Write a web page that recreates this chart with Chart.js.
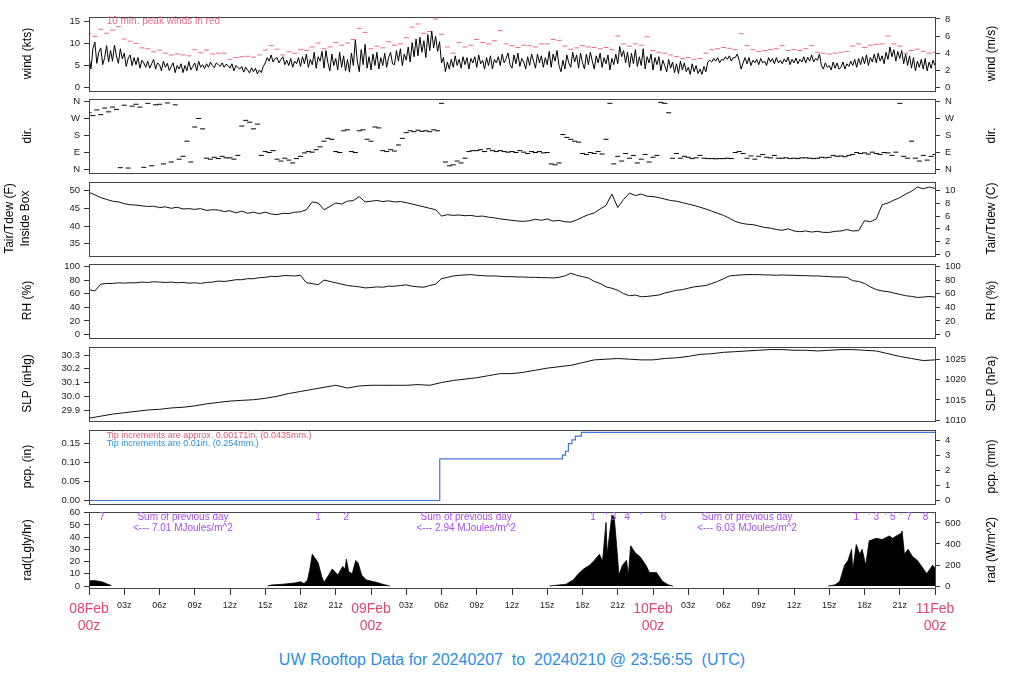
<!DOCTYPE html>
<html>
<head>
<meta charset="utf-8">
<title>UW Rooftop Data</title>
<script src="https://cdn.jsdelivr.net/npm/chart.js@4.4.1/dist/chart.umd.min.js"></script>
<style>
    body { margin: 0; background: #fff; }
    #wrap { position: relative; width: 1024px; height: 700px; overflow: hidden; font-family: "Liberation Sans", Arial, sans-serif; }
    #wrap canvas { position: absolute; left: 0; }
    #title { position: absolute; left: 0; top: 651px; width: 1024px; text-align: center; font-size: 16px; color: #2d8ee6; white-space: pre; }
</style>
</head>
<body>
<div id="wrap">
    <div id="title">UW Rooftop Data for 20240207  to  20240210 @ 23:56:55  (UTC)</div>
</div>
<script>
/**
 * Rooftop weather station, 3-day stacked panels (08Feb 00z .. 11Feb 00z).
 * All series are indexed in hours since 08Feb 00z.
 */

// ---- time axis ----
const xTickHours = [0, 3, 6, 9, 12, 15, 18, 21, 24, 27, 30, 33, 36, 39, 42, 45, 48, 51, 54, 57, 60, 63, 66, 69, 72];
const xTickLabels = [
    ['08Feb', '00z'], '03z', '06z', '09z', '12z', '15z', '18z', '21z',
    ['09Feb', '00z'], '03z', '06z', '09z', '12z', '15z', '18z', '21z',
    ['10Feb', '00z'], '03z', '06z', '09z', '12z', '15z', '18z', '21z',
    ['11Feb', '00z']
];

// ---- wind speed (kts), 10-min samples, one row per hour ----
const windStepH = 1 / 6;
const windKts = [
    7.0, 4.2, 8.8, 10.3, 5.5, 8.0,   9.0, 5.2, 6.8, 9.5, 5.8, 8.4,
    6.0, 9.6, 7.2, 5.5, 8.8, 6.5,    7.8, 4.8, 6.6, 7.4, 5.0, 6.8,
    5.2, 6.8, 4.4, 6.2, 5.6, 4.6,    6.0, 4.4, 5.4, 6.4, 4.2, 5.6,
    5.2, 3.8, 6.0, 4.6, 5.5, 3.9,    4.8, 5.6, 3.4, 5.0, 4.2, 5.4,
    3.4, 5.0, 3.8, 5.9, 4.0, 4.8,    5.6, 3.8, 6.0, 4.6, 5.2, 4.3,
    5.4, 4.6, 5.8, 5.0, 4.5, 5.6,    5.2, 4.8, 5.6, 4.6, 5.3, 5.0,
    4.4, 5.4, 3.8, 5.0, 4.6, 4.2,    4.8, 3.5, 4.6, 4.0, 3.3, 4.5,
    3.6, 4.4, 3.1, 4.0, 3.4, 4.8,    5.6, 6.8, 6.0, 7.4, 5.8, 6.6,
    6.8, 5.6, 6.4, 7.0, 5.2, 6.2,    5.0, 6.6, 4.6, 6.0, 5.4, 6.8,
    4.8, 7.0, 5.4, 7.6, 4.6, 6.4,    5.2, 8.0, 4.4, 7.0, 6.0, 8.2,
    4.4, 8.4, 5.6, 3.8, 7.6, 5.0,    6.6, 4.0, 8.0, 4.6, 7.2, 3.8,
    6.4, 3.5, 7.8, 5.0, 10.8, 6.0,   3.6, 8.6, 5.2, 9.8, 4.4, 7.0,
    4.0, 7.6, 5.0, 8.0, 4.2, 6.8,    5.0, 7.8, 4.6, 6.8, 8.0, 5.4,
    5.2, 8.4, 6.0, 8.8, 5.0, 7.6,    6.2, 9.2, 5.8, 10.2, 7.0, 11.0,
    7.2, 11.4, 8.0, 10.6, 6.8, 12.0, 8.4, 12.8, 9.0, 11.6, 8.2, 10.4,
    5.6, 6.8, 3.6, 5.8, 4.2, 6.4,    4.6, 7.2, 5.0, 6.4, 4.4, 7.0,
    5.2, 6.8, 4.2, 6.6, 5.6, 7.0,    4.6, 7.4, 5.4, 6.2, 4.2, 6.8,
    5.0, 7.2, 4.2, 6.4, 5.6, 7.0,    5.0, 7.6, 5.6, 6.6, 7.8, 5.2,
    4.4, 7.4, 5.4, 7.8, 4.8, 6.6,    5.8, 4.2, 7.0, 5.0, 7.6, 6.0,
    4.4, 7.6, 5.6, 7.2, 4.6, 6.8,    5.2, 8.2, 4.6, 7.6, 6.0, 8.4,
    5.0, 3.6, 6.2, 4.2, 7.4, 5.6,    4.6, 8.0, 5.8, 7.4, 4.4, 7.8,
    5.6, 4.2, 7.6, 5.2, 8.0, 6.0,    4.2, 7.2, 5.6, 7.8, 4.6, 6.8,
    5.4, 7.4, 4.0, 6.6, 5.2, 7.6,    5.4, 9.3, 7.0, 8.4, 5.6, 8.0,
    4.6, 7.8, 5.4, 8.6, 4.8, 7.0,    5.0, 8.8, 4.2, 7.0, 5.6, 7.6,
    4.0, 6.8, 5.2, 7.0, 3.8, 6.2,    5.0, 3.6, 6.4, 4.4, 5.8, 3.4,
    5.4, 3.2, 6.0, 4.0, 5.6, 3.6,    4.6, 3.0, 5.4, 3.6, 5.0, 3.2,
    4.2, 3.0, 4.8, 3.6, 5.8, 6.2,    5.8, 6.6, 6.0, 6.8, 5.6, 6.4,
    6.2, 7.0, 6.4, 7.2, 6.0, 6.8,    6.8, 7.6, 6.2, 4.2, 5.6, 6.8,
    5.4, 6.8, 5.0, 6.2, 5.6, 6.4,    5.2, 6.6, 5.6, 6.0, 5.0, 6.8,
    5.8, 6.6, 5.4, 6.8, 5.6, 6.2,    5.4, 6.5, 5.8, 6.9, 5.2, 6.4,
    5.6, 6.7, 5.4, 6.4, 5.8, 7.0,    5.6, 6.9, 6.0, 7.4, 5.8, 6.6,
    6.2, 7.6, 5.0, 4.2, 5.6, 4.6,    5.0, 4.0, 5.8, 4.4, 5.6, 4.2,
    4.6, 5.8, 4.2, 5.4, 4.8, 6.0,    5.0, 6.4, 4.6, 6.6, 5.2, 7.0,
    5.4, 7.4, 5.0, 6.8, 5.8, 7.6,    5.6, 7.8, 6.0, 7.2, 5.4, 8.0,
    6.4, 9.2, 7.0, 8.6, 6.0, 8.2,    6.6, 8.4, 5.4, 7.6, 5.0, 7.2,
    4.4, 6.8, 3.8, 6.0, 4.6, 6.4,    4.2, 6.6, 3.8, 5.8, 4.4, 6.2,
    5.0
];

// ---- 10 min peak wind (kts), 30-min samples ----
const peakStepH = 0.5;
const peakKts = [
    12.2, 11.6, 13.2, 12.3, 13.0, 13.8, 11.0, 10.5, 10.0, 9.0,
    8.8, 8.1, 8.5, 7.8, 7.4, 7.6, 7.4, 7.2, 8.6, 7.9,
    8.5, 7.6, 7.8, 7.8, 6.4, 6.8, 7.0, 7.1, 6.9, 7.4,
    8.5, 9.5, 8.7, 7.4, 8.1, 7.8, 8.6, 8.4, 9.2, 10.1,
    8.8, 9.2, 10.2, 9.6, 10.1, 10.9, 13.4, 12.5, 8.8, 9.4,
    9.0, 10.4, 9.6, 9.9, 11.3, 13.7, 14.4, 12.3, 12.7, 15.5,
    12.1, 9.2, 7.8, 10.2, 9.2, 9.6, 10.9, 10.2, 9.9, 10.6,
    12.9, 9.9, 9.5, 9.1, 9.6, 9.5, 9.2, 9.9, 9.9, 10.9,
    10.7, 9.4, 8.7, 9.0, 9.5, 9.2, 9.1, 8.8, 9.1, 8.6,
    11.7, 9.9, 9.4, 9.9, 9.6, 11.5, 8.4, 8.0, 7.8, 7.4,
    7.0, 6.6, 6.8, 6.4, 6.6, 7.8, 8.6, 8.8, 9.1, 8.9,
    8.6, 12.2, 9.5, 8.6, 8.2, 8.4, 8.6, 8.8, 9.5, 8.4,
    8.6, 8.4, 8.8, 9.5, 8.0, 7.8, 7.6, 7.8, 8.0, 8.2,
    9.4, 9.9, 9.1, 9.6, 9.8, 9.9, 11.7, 9.9, 9.4, 7.8,
    8.4, 8.7, 8.2, 7.8, 8.0
];

// ---- wind direction (deg), 20-min samples ----
const dirStepH = 1 / 3;
const dirDeg = [
    300, 285, 315,  290, 325, 305,  330, 318, 10,  340, 8, 335,
    345, 330, 12,  350, 20, 342,  345, 30, 352,  40, 342, 55,
    70, 150, 40,  225, 270, 215,  60, 55, 65,  58, 70, 62,
    62, 55, 75,  230, 260, 250,  215, 240, 75,  95, 90, 100,
    55, 45, 60,  50, 35, 58,  70, 88, 95,  92, 105, 120,
    150, 165, 160,  95, 90, 205,  210, 95, 90,  205, 210, 160,
    150, 225, 220,  100, 95, 105,  98, 130, 165,  195, 205, 200,
    208, 202, 205,  200, 210, 205,  350, 40, 20,  25, 45, 35,
    60, 95, 100,  100, 105, 95,  110, 100, 95,  100, 95, 92,
    95, 90, 100,  92, 85, 95,  90, 95, 88,  90, 30, 25,
    35, 185, 170,  160, 150, 145,  85, 80, 90,  85, 95, 82,
    160, 350, 30,  70, 45, 85,  60, 75, 35,  55, 80, 40,
    65, 75, 355,  350, 300, 60,  85, 60, 70,  65, 58, 62,
    75, 60, 58,  58, 57, 58,  58, 60, 58,  90, 95, 85,
    60, 72, 55,  70, 80, 65,  62, 75, 60,  60, 62, 58,
    60, 58, 62,  62, 60, 58,  60, 65, 62,  65, 75, 70,
    72, 68, 75,  80, 90, 85,  88, 82, 92,  85, 80, 90,
    88, 75, 92,  350, 70, 60,  150, 60, 45,  75, 50, 70,
    80
];
const dirTicks = [0, 90, 180, 270, 360];
const dirTickLabels = ['N', 'E', 'S', 'W', 'N'];

// ---- air temperature inside box (F), 30-min samples ----
const tempStepH = 0.5;
const tempF = [
    49.5, 48.8, 48.0, 47.5, 47.0, 46.8, 46.3, 46.0, 45.9, 45.7,
    45.5, 45.6, 45.2, 45.4, 45.0, 45.3, 44.8, 44.9, 44.7, 44.9,
    44.4, 44.6, 44.5, 44.1, 44.3, 43.7, 44.2, 43.6, 43.9, 43.5,
    43.9, 43.4, 43.2, 43.6, 43.5, 43.9, 44.0, 44.6, 46.8, 46.5,
    44.6, 45.5, 46.5, 46.2, 47.0, 47.2, 48.3, 46.8, 47.0, 47.2,
    46.9, 47.1, 46.8, 46.9, 46.6, 46.2, 45.8, 45.4, 45.0, 44.6,
    42.8, 43.2, 43.0, 43.1, 42.9, 43.0, 42.7, 42.8, 42.5, 42.3,
    42.0, 41.8, 41.6, 41.4, 41.3, 41.5, 41.9, 41.6, 42.0, 41.4,
    41.6, 41.2, 41.1, 41.7, 42.5, 43.2, 43.7, 44.8, 45.8, 49.0,
    45.2, 47.5, 49.3, 48.6, 49.0, 48.4, 48.3, 48.0, 47.6, 47.2,
    47.0, 46.6, 46.2, 45.8, 45.3, 44.8, 44.2, 43.6, 43.0, 42.2,
    41.3, 40.8, 40.5, 40.4, 40.0, 39.6, 39.4, 39.0, 38.8, 39.2,
    38.6, 38.4, 38.6, 38.3, 38.5, 38.2, 38.2, 38.5, 38.6, 39.0,
    38.6, 38.7, 41.5, 41.2, 42.0, 46.0, 46.5, 47.3, 48.0, 49.0,
    49.8, 51.0, 50.5, 51.0, 50.6
];

// ---- relative humidity (%), 30-min samples ----
const rhStepH = 0.5;
const rhPct = [
    66, 64, 74, 75, 75, 76, 75.5, 76, 76, 77,
    76.5, 77.5, 77, 76.5, 77, 76, 76.5, 75.5, 76, 75,
    76.5, 77, 78.5, 78, 79, 80.5, 80.5, 82, 82, 83.5,
    84, 85.5, 85, 86.5, 86.5, 86, 87, 76, 75, 73,
    80, 78, 76, 74, 72, 71, 70, 68.5, 69, 70,
    69.5, 71, 71, 72, 73, 71, 70, 69.5, 72, 74,
    82, 84, 86, 87, 87.5, 88, 87, 86.5, 86, 86,
    85.5, 85, 85, 84.5, 84.5, 84, 84, 83.5, 83.5, 83,
    84, 86, 90, 87, 85, 83, 78, 75, 70, 68,
    65, 60, 57, 58, 55.5, 56, 57, 58, 61, 63,
    65, 66, 68, 70, 71, 72, 75, 78, 82, 86,
    87, 87.5, 88, 88, 88, 87.5, 87.5, 87, 87.5, 87,
    87, 86.5, 86.5, 86, 86, 85.5, 85, 84.5, 84.5, 84,
    79, 78, 75, 70, 66, 64, 63, 61, 59, 57,
    56, 54.5, 55, 56, 55
];

// ---- sea level pressure (inHg), hourly ----
const slpStepH = 1;
const slpInHg = [
    29.840, 29.855, 29.870, 29.880, 29.890, 29.900, 29.905, 29.915, 29.920, 29.930,
    29.945, 29.955, 29.965, 29.970, 29.975, 29.985, 30.000, 30.020, 30.035, 30.050,
    30.065, 30.080, 30.060, 30.075, 30.080, 30.080, 30.080, 30.080, 30.085, 30.080,
    30.100, 30.115, 30.125, 30.135, 30.150, 30.165, 30.165, 30.175, 30.190, 30.205,
    30.215, 30.225, 30.245, 30.265, 30.270, 30.275, 30.270, 30.265, 30.265, 30.275,
    30.280, 30.290, 30.305, 30.310, 30.320, 30.325, 30.330, 30.335, 30.340, 30.340,
    30.335, 30.335, 30.330, 30.335, 30.340, 30.340, 30.335, 30.330, 30.310, 30.290,
    30.275, 30.260, 30.265
];

// ---- accumulated precipitation (in), step changes ----
const pcpHours = [0, 29.85, 40.3, 40.55, 40.8, 41.1, 41.4, 41.9, 72];
const pcpIn = [0, 0.11, 0.12, 0.13, 0.15, 0.16, 0.17, 0.18, 0.18];

// ---- solar radiation (Lgly/hr); null breaks the night-time gaps ----
const radHours = [
    0, 0.4, 0.8, 1.2, 1.6, 1.9, 2.0,
    15.0, 15.2, 15.5, 16.5, 17.5, 18.0, 18.3, 18.6, 18.8, 19.0,
    19.3, 19.5, 19.8, 20.0, 20.4, 20.7, 21.0, 21.2, 21.4, 21.6,
    21.8, 21.9, 22.1, 22.4, 22.7, 22.9, 23.2, 23.6, 24.5, 25.0,
    25.6, 25.7,
    39.0, 39.2, 39.6, 40.6, 41.2, 41.75, 42.1, 42.6, 43.0, 43.45,
    43.7, 44.0, 44.1, 44.5, 44.7, 44.9, 45.1, 45.4, 45.75, 45.9,
    46.1, 46.5, 46.9, 47.4, 47.7, 48.3, 48.8, 49.3, 49.7, 49.8,
    62.8, 62.9, 63.5, 63.9, 64.3, 64.6, 64.9, 65.0, 65.3, 65.6,
    65.8, 66.1, 66.4, 67.0, 67.5, 67.9, 68.1, 68.4, 68.7, 69.1,
    69.2, 69.4, 69.7, 70.1, 70.5, 70.8, 71.3, 71.5, 71.8, 72.0
];
const radLgly = [
    4.2, 4.5, 4.0, 3.2, 1.5, 0.5, null,
    null, 0, 0.8, 1.5, 2.5, 3.5, 2.0, 5, 14, 26,
    22, 19, 8, 3, 9, 14, 11, 9, 13, 16,
    14, 22, 12, 10, 21, 19, 9, 5, 3, 1.5,
    0, null,
    null, 0, 0.5, 1.5, 5, 11, 14, 17, 21, 26,
    20, 52, 26, 58, 56, 34, 9, 17, 21, 9,
    33, 27, 24, 17, 11, 11, 4, 1, 0, null,
    null, 0, 1, 4, 17, 21, 30, 13, 34, 26,
    30, 17, 37, 39, 38, 40, 41, 39, 41, 43,
    45, 26, 30, 24, 21, 17, 10, 13, 17, 15
];

// hour marks and daily sums printed along the top of the radiation panel
const radMarkHours = [1.1, 19.5, 21.9, 42.9, 44.05, 44.65, 45.8, 46.95, 48.9, 65.3, 66.4, 67.0, 67.8, 68.4, 69.1, 69.8, 71.2];
const radMarkText = ['7', '1', '2', '1', "'", '3', '4', "'", '6', '1', "'", '3', "'", '5', "'", '7', '8'];
const radSumHours = [8.0, 32.1, 56.0];
const radSumText = ['<--- 7.01 MJoules/m^2', '<--- 2.94 MJoules/m^2', '<--- 6.03 MJoules/m^2'];

// ---- unit conversions for the right-hand axes ----
const KTS_PER_MS = 1.9438;
const HPA_PER_INHG = 33.8639;
const MM_PER_IN = 25.4;
const WM2_PER_LGLY = 11.63;
const fToC = f => (f - 32) * 5 / 9;

const SANS = '"Liberation Sans", Arial, sans-serif';
const NARROW = '"Liberation Sans Narrow", "Liberation Sans", Arial, sans-serif';
const DAY_RED = '#e3476b';
const PEAK_PINK = '#ef6a88';
const PURPLE = '#a94cf2';
const TIP_RED = '#e05a74';
const TIP_BLUE = '#2c8fe8';
const PCP_BLUE = '#4178cf';

const series = (values, step) => values.map((v, i) => ({ x: i * step, y: v }));
const pairs = (xs, ys) => xs.map((x, i) => ({ x, y: ys[i] }));

// panel frame
Chart.register({
    id: 'frame',
    afterDraw(chart) {
        const { ctx, chartArea: a } = chart;
        ctx.save();
        ctx.strokeStyle = '#444';
        ctx.lineWidth = 1;
        ctx.strokeRect(Math.round(a.left) + 0.5, Math.round(a.top) + 0.5,
            Math.round(a.right - a.left), Math.round(a.bottom - a.top));
        ctx.restore();
    }
});

function rotText(ctx, text, x, y) {
    ctx.save();
    ctx.translate(x, y);
    ctx.rotate(-Math.PI / 2);
    ctx.fillText(text, 0, 0);
    ctx.restore();
}

// rotated axis titles on both sides, plus text notes placed in data units
function panelText(leftTitles, leftX, rightTitle, notes) {
    return {
        id: 'panelText',
        afterDraw(chart) {
            const { ctx, chartArea: a, scales } = chart;
            const midY = (a.top + a.bottom) / 2;
            ctx.save();
            ctx.fillStyle = '#000';
            ctx.textAlign = 'center';
            ctx.textBaseline = 'middle';
            ctx.font = '12px ' + SANS;
            leftTitles.forEach((t, i) => rotText(ctx, t, leftX[i], midY));
            rotText(ctx, rightTitle, 992, midY);
            (notes || []).forEach(n => {
                ctx.font = (n.size || 10) + 'px ' + (n.family || SANS);
                ctx.fillStyle = n.color;
                ctx.textAlign = n.align || 'center';
                ctx.fillText(n.text, scales.x.getPixelForValue(n.x), scales.y.getPixelForValue(n.y));
            });
            ctx.restore();
        }
    };
}

function yAxis(position, min, max, ticks, format, family) {
    return {
        position, min, max, bounds: 'data',
        afterFit: s => { s.width = 89; },
        afterBuildTicks: s => { s.ticks = ticks.map(v => ({ value: v })); },
        ticks: {
            autoSkip: false, color: '#222', padding: position === 'left' ? 4 : 5,
            font: { family: family || SANS, size: 9.5 },
            callback: format
        },
        grid: { drawOnChartArea: false, tickLength: 5, color: '#333' },
        border: { display: false }
    };
}

function xAxis(show) {
    return {
        type: 'linear', min: 0, max: 72, bounds: 'data', display: show,
        afterFit: s => { if (show) s.height = 112; },
        afterBuildTicks: s => { s.ticks = xTickHours.map(v => ({ value: v })); },
        ticks: {
            autoSkip: false, maxRotation: 0, minRotation: 0, padding: 5.5,
            callback: (v, i) => xTickLabels[i],
            color: c => Array.isArray(xTickLabels[c.index]) ? DAY_RED : '#222',
            font: c => ({ family: NARROW, size: Array.isArray(xTickLabels[c.index]) ? 14 : 9 })
        },
        grid: { drawOnChartArea: false, tickLength: 7, color: '#333' },
        border: { display: false }
    };
}

const wrap = document.getElementById('wrap');

function makePanel(top, isLast, datasets, yl, yr, text) {
    const canvas = document.createElement('canvas');
    const h = isLast ? 700 - (top - 8) : 79 + 16;
    canvas.width = 1024;
    canvas.height = h;
    canvas.style.top = (top - 8) + 'px';
    canvas.style.width = '1024px';
    canvas.style.height = h + 'px';
    wrap.appendChild(canvas);

    return new Chart(canvas.getContext('2d'), {
        type: 'line',
        data: { datasets },
        options: {
            responsive: false,
            animation: false,
            events: [],
            layout: { padding: { top: 8, bottom: isLast ? 0 : 8, left: 0, right: 0 } },
            plugins: { legend: { display: false }, tooltip: { enabled: false } },
            elements: { line: { tension: 0 } },
            scales: { x: xAxis(isLast), y: yl, yr }
        },
        plugins: [text]
    });
}

const toFixed = d => v => v.toFixed(d);
const plain = v => String(v);

// wind
const windMin = -0.6, windMax = 16.05;
makePanel(14, false, [
    { data: series(windKts, windStepH), borderColor: '#000', borderWidth: 1, pointRadius: 0 },
    { data: series(peakKts, peakStepH), showLine: false, pointStyle: 'line', pointRadius: 2.5,
      borderColor: PEAK_PINK, pointBorderColor: PEAK_PINK, pointBorderWidth: 1 }
],
    yAxis('left', windMin, windMax, [0, 5, 10, 15], plain),
    yAxis('right', windMin / KTS_PER_MS, windMax / KTS_PER_MS, [0, 2, 4, 6, 8], plain),
    panelText(['wind (kts)'], [28], 'wind (m/s)',
        [{ x: 1.5, y: 15.0, text: '10 min. peak winds in red', color: PEAK_PINK, align: 'left', size: 10 }]));

// direction
makePanel(96, false, [
    { data: series(dirDeg, dirStepH), showLine: false, pointStyle: 'line', pointRadius: 2.5,
      borderColor: '#000', pointBorderColor: '#000', pointBorderWidth: 1 }
],
    yAxis('left', -14.4, 374.4, dirTicks, (v, i) => dirTickLabels[i]),
    yAxis('right', -14.4, 374.4, dirTicks, (v, i) => dirTickLabels[i]),
    panelText(['dir.'], [28], 'dir.'));

// temperature
const tMin = 31.74, tMax = 52.5;
makePanel(179, false, [
    { data: series(tempF, tempStepH), borderColor: '#111', borderWidth: 1, pointRadius: 0 }
],
    yAxis('left', tMin, tMax, [35, 40, 45, 50], plain, NARROW),
    yAxis('right', fToC(tMin), fToC(tMax), [0, 2, 4, 6, 8, 10], plain, NARROW),
    panelText(['Tair/Tdew (F)', 'Inside Box'], [10, 26], 'Tair/Tdew (C)'));

// relative humidity
makePanel(261, false, [
    { data: series(rhPct, rhStepH), borderColor: '#111', borderWidth: 1, pointRadius: 0 }
],
    yAxis('left', -4, 104, [0, 20, 40, 60, 80, 100], plain, NARROW),
    yAxis('right', -4, 104, [0, 20, 40, 60, 80, 100], plain, NARROW),
    panelText(['RH (%)'], [28], 'RH (%)'));

// pressure
const pMin = 29.825, pMax = 30.361;
makePanel(344, false, [
    { data: series(slpInHg, slpStepH), borderColor: '#111', borderWidth: 1, pointRadius: 0 }
],
    yAxis('left', pMin, pMax, [29.9, 30.0, 30.1, 30.2, 30.3], toFixed(1), NARROW),
    yAxis('right', pMin * HPA_PER_INHG, pMax * HPA_PER_INHG, [1010, 1015, 1020, 1025], plain, NARROW),
    panelText(['SLP (inHg)'], [28], 'SLP (hPa)'));

// precipitation
const rMin = -0.0074, rMax = 0.1869;
makePanel(427, false, [
    { data: pairs(pcpHours, pcpIn), stepped: true, borderColor: PCP_BLUE, borderWidth: 1.2, pointRadius: 0 }
],
    yAxis('left', rMin, rMax, [0, 0.05, 0.10, 0.15], toFixed(2), NARROW),
    yAxis('right', rMin * MM_PER_IN, rMax * MM_PER_IN, [0, 1, 2, 3, 4], plain, NARROW),
    panelText(['pcp. (in)'], [28], 'pcp. (mm)', [
        { x: 1.5, y: 0.172, text: 'Tip increments are approx. 0.00171in. (0.0435mm.)', color: TIP_RED, align: 'left', size: 9, family: NARROW },
        { x: 1.5, y: 0.150, text: 'Tip increments are 0.01in. (0.254mm.)', color: TIP_BLUE, align: 'left', size: 9, family: NARROW }
    ]));

// radiation
const radNotes = radMarkHours.map((h, i) => ({ x: h, y: 56.1, text: radMarkText[i], color: PURPLE }));
radSumHours.forEach((h, i) => {
    radNotes.push({ x: h, y: 56.1, text: 'Sum of previous day', color: PURPLE });
    radNotes.push({ x: h, y: 47.4, text: radSumText[i], color: PURPLE });
});
const sMin = -1.58, sMax = 60.8;
makePanel(509, true, [
    { data: pairs(radHours, radLgly), borderColor: '#000', backgroundColor: '#000', borderWidth: 0.8,
      pointRadius: 0, fill: 'origin', spanGaps: false }
],
    yAxis('left', sMin, sMax, [0, 10, 20, 30, 40, 50, 60], plain),
    yAxis('right', sMin * WM2_PER_LGLY, sMax * WM2_PER_LGLY, [0, 200, 400, 600], plain),
    panelText(['rad(Lgly/hr)'], [28], 'rad (W/m^2)', radNotes));
</script>
</body>
</html>
